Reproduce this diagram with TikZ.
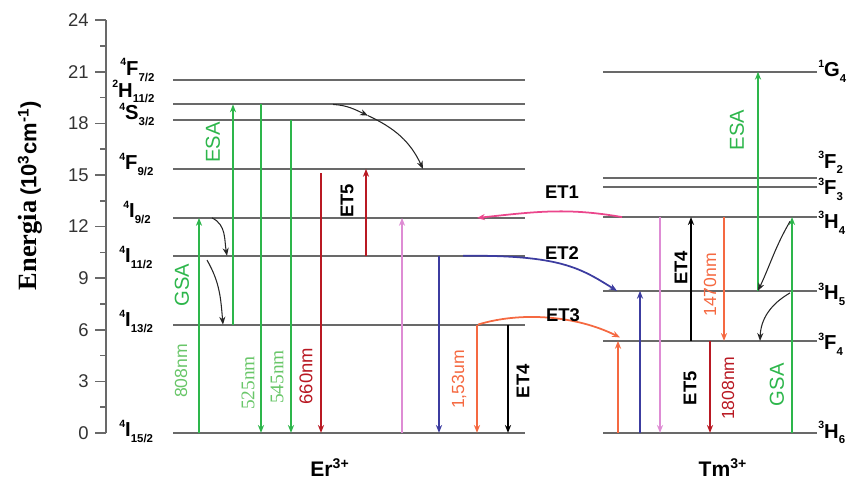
\documentclass[tikz,border=0pt]{standalone}
\usepackage{fontspec}
\setmainfont{Liberation Sans}
\newfontfamily\timesfont{Liberation Serif}
\usetikzlibrary{arrows.meta}

\definecolor{grn}{RGB}{45,182,75}
\definecolor{lgrn}{RGB}{105,198,105}
\definecolor{dred}{RGB}{185,25,35}
\definecolor{pnk}{RGB}{222,140,212}
\definecolor{blu}{RGB}{60,60,160}
\definecolor{orng}{RGB}{245,105,65}
\definecolor{mgnt}{RGB}{235,70,140}
\definecolor{lvlgray}{RGB}{105,105,105}

% term symbol: ^{2S+1}L_J
\newcommand{\lev}[3]{\raisebox{0.9ex}{\fontsize{6}{6}\selectfont #1}#2\raisebox{-0.55ex}{\fontsize{6.5}{6.5}\selectfont #3}}

\begin{document}
\begin{tikzpicture}[x=0.02cm, y=0.344cm, >={Stealth[length=4.5pt,width=3.5pt]},
    enlevel/.style={draw=lvlgray, line width=1.1pt},
    axis/.style={draw=lvlgray, line width=0.9pt},
    tick/.style={anchor=east, inner sep=0pt, text=black!80, font=\fontsize{10.5}{11}\selectfont},
    lbl/.style={anchor=base west, inner sep=0pt, font=\fontsize{11.5}{12}\selectfont\bfseries},
    vtext/.style={rotate=90, inner sep=0pt},
    wl/.style={vtext, font=\fontsize{10}{10}\selectfont},
    etname/.style={inner sep=0pt, font=\fontsize{10.5}{11}\selectfont\bfseries},
    trans/.style={->, line width=1pt},
    nr/.style={->, black!85, line width=0.6pt}]
    \useasboundingbox (0,-2.849) rectangle (851,25.174);

    % Energy axis
    \draw[axis] (106,0) coordinate (ax0) -- (106,24) coordinate (ax24);
    \foreach \e in {0,3,...,24} {
        \draw[axis] (106,\e) -- ++(-11,0);
        \node[tick] (t\e) at (89,\e) {\e};
    }
    \foreach \e in {1.5,4.5,...,22.5}
        \draw[axis] (106,\e) -- ++(-6,0);
    \node[rotate=90, inner sep=0pt] (ytitle) at (30,13.8)
        {{\timesfont\bfseries\fontsize{15}{15}\selectfont Energia} {\bfseries\fontsize{12.5}{13}\selectfont (10\textsuperscript{3}cm\textsuperscript{-1})}};

    % Er levels
    \draw[enlevel] (173,0) coordinate (I15) -- (525,0);
    \draw[enlevel] (173,6.3) coordinate (I13) -- (525,6.3);
    \draw[enlevel] (173,10.3) coordinate (I11) -- (525,10.3);
    \draw[enlevel] (173,12.5) coordinate (I9) -- (525,12.5);
    \draw[enlevel] (173,15.35) coordinate (F9) -- (525,15.35);
    \draw[enlevel] (173,18.2) coordinate (S3) -- (525,18.2);
    \draw[enlevel] (173,19.1) coordinate (H11) -- (525,19.1);
    \draw[enlevel] (173,20.5) coordinate (F7) -- (525,20.5);

    \node[lbl] (lI15) at (119,-0.23) {\lev{4}{I}{15/2}};
    \node[lbl] (lI13) at (119,6.16) {\lev{4}{I}{13/2}};
    \node[lbl] (lI11) at (119,9.9) {\lev{4}{I}{11/2}};
    \node[lbl] (lI9) at (123,12.5) {\lev{4}{I}{9/2}};
    \node[lbl] (lF9) at (119,15.3) {\lev{4}{F}{9/2}};
    \node[lbl] (lS3) at (119,18.2) {\lev{4}{S}{3/2}};
    \node[lbl] (lH11) at (112,19.53) {\lev{2}{H}{11/2}};
    \node[lbl] (lF7) at (120,20.8) {\lev{4}{F}{7/2}};

    % Tm levels
    \draw[enlevel] (603,0) coordinate (H6) -- (817,0);
    \draw[enlevel] (603,5.35) coordinate (F4) -- (817,5.35);
    \draw[enlevel] (603,8.26) coordinate (H5) -- (817,8.26);
    \draw[enlevel] (603,12.55) coordinate (H4) -- (817,12.55);
    \draw[enlevel] (603,14.3) coordinate (F3) -- (817,14.3);
    \draw[enlevel] (603,14.8) coordinate (F2) -- (817,14.8);
    \draw[enlevel] (603,21) coordinate (G4) -- (817,21);

    \node[lbl] (lH6) at (818,-0.3) {\lev{3}{H}{6}};
    \node[lbl] (lF4) at (818,4.83) {\lev{3}{F}{4}};
    \node[lbl] (lH5) at (818,7.73) {\lev{3}{H}{5}};
    \node[lbl] (lH4) at (818,11.9) {\lev{3}{H}{4}};
    \node[lbl] (lF3) at (818,13.84) {\lev{3}{F}{3}};
    \node[lbl] (lF2) at (818,15.4) {\lev{3}{F}{2}};
    \node[lbl] (lG4) at (818,20.7) {\lev{1}{G}{4}};

    % Er transitions
    \draw[trans, grn] (199,0 |- I15) -- (199,0 |- I9);
    \draw[trans, grn] (233,0 |- I13) -- (233,0 |- H11);
    \draw[trans, grn] (261,0 |- H11) -- (261,0 |- I15);
    \draw[trans, grn] (291,0 |- S3) -- (291,0 |- I15);
    \draw[trans, dred, line width=1.4pt, shorten <=2.5pt] (321,0 |- F9) -- (321,0 |- I15);
    \draw[trans, dred, line width=1.2pt] (366,0 |- I11) -- (366,0 |- F9);
    \draw[trans, pnk] (402,0 |- I15) -- (402,0 |- I9);
    \draw[trans, blu] (439,0 |- I11) -- (439,0 |- I15);
    \draw[trans, orng] (477,0 |- I13) -- (477,0 |- I15);
    \draw[trans, black] (508,0 |- I13) -- (508,0 |- I15);

    \node[vtext, grn, font=\fontsize{11.5}{12}\selectfont] (gsaEr) at (182,8.6) {GSA};
    \node[wl, lgrn] (w808) at (181,3.6) {808nm};
    \node[vtext, grn, font=\fontsize{11.5}{12}\selectfont] (esaEr) at (213,16.9) {ESA};
    \node[vtext, lgrn, font=\timesfont\fontsize{11}{11}\selectfont] (w525) at (248,2.9) {525nm};
    \node[vtext, lgrn, font=\timesfont\fontsize{11}{11}\selectfont] (w545) at (277,3.25) {545nm};
    \node[wl, dred, font=\fontsize{10.5}{11}\selectfont] (w660) at (306,3.3) {660nm};
    \node[vtext, etname] (et5Er) at (347,13.5) {ET5};
    \node[wl, orng] (w153) at (459,3.1) {1,53um};
    \node[vtext, etname] (et4Er) at (523,3.0) {ET4};

    % nonradiative decays in Er
    \draw[nr] (212,0 |- I9) to[out=-25, in=100] (227,0 |- I11);
    \draw[nr] (207,10.05) to[out=-60, in=95] (223,0 |- I13);
    \coordinate (nrmid) at (368,18.45);
    \draw[nr] (333,0 |- H11) to[out=-3, in=155] (nrmid);
    \draw[nr] (nrmid) to[out=-25, in=115] (423,0 |- F9);

    % Tm transitions
    \draw[trans, orng] (618,0 |- H6) -- (618,0 |- F4);
    \draw[trans, blu] (640,0 |- H6) -- (640,0 |- H5);
    \draw[trans, pnk] (660,0 |- H4) -- (660,0 |- H6);
    \draw[trans, black] (691,0 |- F4) -- (691,0 |- H4);
    \draw[trans, orng, line width=1.2pt] (724,0 |- H4) -- (724,0 |- F4);
    \draw[trans, dred, line width=1.4pt] (710,0 |- F4) -- (710,0 |- H6);
    \draw[trans, grn] (758,0 |- H5) -- (758,0 |- G4);
    \draw[trans, grn] (792,0 |- H6) -- (792,0 |- H4);

    \node[vtext, etname] (et4Tm) at (681,9.6) {ET4};
    \node[wl, orng] (w1470) at (710,8.6) {1470nm};
    \node[vtext, etname] (et5Tm) at (690,2.6) {ET5};
    \node[wl, dred] (w1808) at (728,2.6) {1808nm};
    \node[vtext, grn, font=\fontsize{11.5}{12}\selectfont] (esaTm) at (737,17.6) {ESA};
    \node[vtext, grn, font=\fontsize{11.5}{12}\selectfont] (gsaTm) at (777,2.8) {GSA};

    % nonradiative decays in Tm
    \draw[nr] (790,12.3) to[out=-120, in=65] (758,0 |- H5);
    \draw[nr] (790,8.14) to[out=-150, in=88] (760,0 |- F4);

    % Energy transfer Tm <-> Er
    \draw[->, mgnt, line width=1pt] (622,0 |- H4) to[out=170, in=6] (477,0 |- I9);
    \draw[->, blu, line width=1pt] (463,0 |- I11) .. controls (560,10.35) and (580,9.6) .. (617,0 |- H5);
    \draw[->, orng, line width=1pt] (478,0 |- I13) .. controls (520,7.05) and (575,6.85) .. (620,5.55);
    \node[etname] (et1) at (562,14.0) {ET1};
    \node[etname] (et2) at (562,10.45) {ET2};
    \node[etname] (et3) at (563,6.86) {ET3};

    % ions
    \node[font=\bfseries\fontsize{12}{12}\selectfont] (er) at (330,-2.03) {Er\textsuperscript{3+}};
    \node[font=\bfseries\fontsize{12}{12}\selectfont] (tm) at (723,-2.03) {Tm\textsuperscript{3+}};
\end{tikzpicture}
\end{document}
